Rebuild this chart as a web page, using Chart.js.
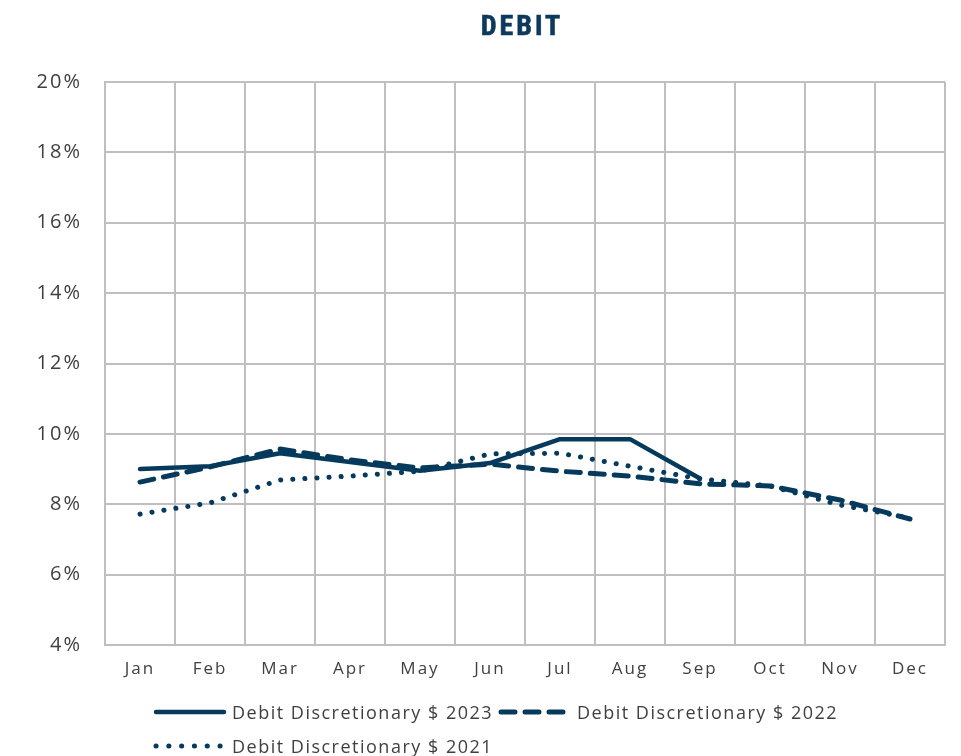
<!DOCTYPE html>
<html>
<head>
<meta charset="utf-8">
<script src="https://cdn.jsdelivr.net/npm/chart.js@4.4.1/dist/chart.umd.min.js"></script>
<style>
  html, body { margin: 0; padding: 0; background: #fff; }
  #wrap { position: relative; width: 961px; height: 756px; }
  #myChart { position: absolute; left: 0; top: 0; }
  .title {
    position: absolute; left: 420px; width: 204px; top: 9px; text-align: center;
    font-family: "Liberation Sans Narrow", "Roboto Condensed", "Open Sans", sans-serif;
    font-weight: bold; font-size: 28px; color: #0d3a5c; letter-spacing: 3px;
    -webkit-text-stroke: 0.6px #0d3a5c;
  }
  .legend-item {
    position: absolute; display: flex; align-items: center; height: 24px;
    font-family: "Open Sans", sans-serif; font-size: 18px; color: #404040; letter-spacing: 1.5px;
  }
  .legend-item svg { margin-right: 5px; }
</style>
</head>
<body>
<div id="wrap">
  <canvas id="myChart" width="961" height="756"></canvas>
  <div class="title">DEBIT</div>
  <div class="legend-item" style="left:153px; top:700px;">
    <svg width="74" height="10"><line x1="3" y1="5" x2="71" y2="5" stroke="#053a5c" stroke-width="4.5" stroke-linecap="round"/></svg>
    <span>Debit Discretionary $ 2023</span>
  </div>
  <div class="legend-item" style="left:498px; top:700px;">
    <svg width="74" height="10"><line x1="3" y1="5" x2="71" y2="5" stroke="#053a5c" stroke-width="5" stroke-linecap="round" stroke-dasharray="14 10"/></svg>
    <span>Debit Discretionary $ 2022</span>
  </div>
  <div class="legend-item" style="left:153px; top:734px;">
    <svg width="74" height="10"><line x1="3" y1="5" x2="71" y2="5" stroke="#053a5c" stroke-width="5" stroke-linecap="round" stroke-dasharray="0.1 12.7"/></svg>
    <span>Debit Discretionary $ 2021</span>
  </div>
</div>
<script>
const months = ["Jan", "Feb", "Mar", "Apr", "May", "Jun", "Jul", "Aug", "Sep", "Oct", "Nov", "Dec"];

// debit discretionary share, percent
const debit2023 = [9.0, 9.08, 9.45, 9.2, 8.95, 9.17, 9.85, 9.85, 8.73, null, null, null];
const debit2022 = [8.63, 9.06, 9.57, 9.26, 9.03, 9.14, 8.94, 8.8, 8.58, 8.52, 8.12, 7.58];
const debit2021 = [7.72, 8.04, 8.69, 8.8, 8.94, 9.43, 9.45, 9.08, 8.72, 8.52, 7.98, 7.61];

const yTicks = [4, 6, 8, 10, 12, 14, 16, 18, 20];

const navy = "#053a5c";
const gridGray = "#bfbfbf";

const ctx = document.querySelector("#myChart");

// wider tracking for the axis labels
const spacing = {
  id: "spacing",
  beforeDraw: (chart) => { chart.ctx.letterSpacing = "2px"; }
};

const chart = new Chart(ctx, {
  type: "line",
  data: {
    labels: months,
    datasets: [
      {
        label: "Debit Discretionary $ 2023",
        data: debit2023,
        borderColor: navy,
        borderWidth: 4.5,
        borderCapStyle: "round",
        borderJoinStyle: "round",
        pointRadius: 0,
        tension: 0,
        spanGaps: false
      },
      {
        label: "Debit Discretionary $ 2022",
        data: debit2022,
        borderColor: navy,
        borderWidth: 5,
        borderDash: [14, 10],
        borderCapStyle: "round",
        borderJoinStyle: "round",
        pointRadius: 0,
        tension: 0
      },
      {
        label: "Debit Discretionary $ 2021",
        data: debit2021,
        borderColor: navy,
        borderWidth: 5,
        borderDash: [0.1, 12],
        borderCapStyle: "round",
        pointRadius: 0,
        tension: 0
      }
    ]
  },
  options: {
    responsive: false,
    animation: false,
    layout: { padding: { top: 82, right: 16, bottom: 66, left: 0 } },
    plugins: {
      legend: { display: false },
      title: { display: false },
      tooltip: { enabled: false }
    },
    scales: {
      x: {
        offset: true,
        grid: { offset: true, color: gridGray, lineWidth: 2, drawTicks: false },
        border: { color: gridGray, width: 2 },
        ticks: {
          padding: 14,
          color: "#404040",
          font: { family: "Open Sans", size: 17 }
        },
        afterFit: (scale) => { scale.height = 45; }
      },
      y: {
        min: 4,
        max: 20,
        afterBuildTicks: (scale) => { scale.ticks = yTicks.map((v) => ({ value: v })); },
        grid: { color: gridGray, lineWidth: 2, drawTicks: false },
        border: { color: gridGray, width: 2 },
        ticks: {
          padding: 23,
          color: "#404040",
          font: { family: "Open Sans", size: 20 },
          callback: (v) => v + "%"
        },
        afterFit: (scale) => { scale.width = 105; }
      }
    }
  },
  plugins: [spacing]
});
</script>
</body>
</html>
